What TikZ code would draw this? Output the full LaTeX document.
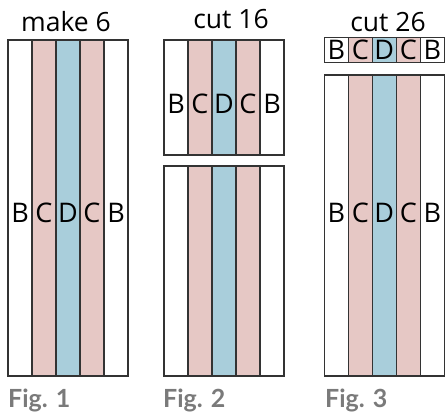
\documentclass[tikz,border=0pt]{standalone}
\usepackage{fontspec}
\setmainfont{Open Sans}
\newfontfamily\figfont{Lato}
\definecolor{pinkc}{HTML}{E6C8C5}
\definecolor{bluec}{HTML}{A9CEDB}
\definecolor{edgec}{HTML}{333333}
\definecolor{figgray}{HTML}{7A7A7A}
\tikzset{
  stripe/.style={draw=edgec, line width=1.2pt},
  lab/.style={font=\fontsize{27}{27}\selectfont, inner sep=0pt, anchor=base},
  ttl/.style={font=\fontsize{26.5}{26.5}\selectfont, inner sep=0pt, anchor=base},
  figlab/.style={font=\figfont\bfseries\fontsize{25}{25}\selectfont, text=figgray, inner sep=0pt, anchor=base west},
}
\newcommand\drawpiece[3]{%
  \foreach \c [count=\i from 0] in {white,pinkc,bluec,pinkc,white}{
    \fill[\c] ({#1+24*\i},#2) rectangle ({#1+24*(\i+1)},#3);
  }
  \foreach \i in {1,...,4}{ \draw[stripe] ({#1+24*\i},#2) -- ({#1+24*\i},#3); }
  \draw[stripe] (#1,#2) rectangle ({#1+120},#3);
}
\newcommand\drawletters[3]{%
  \foreach \l [count=\i from 0] in {B,C,D,C,B}{
    \node[lab] (#3\i) at ({#1+12+24*\i},#2) {\l};
  }
}
\begin{document}
\begin{tikzpicture}[x=1pt,y=-1pt]
\useasboundingbox (0,0) rectangle (445,414);
% Fig 1
\drawpiece{8}{40}{376}
\drawletters{8}{223}{a}
\node[ttl] (t1) at (66,32) {make 6};
\node[figlab] (f1) at (8,408) {Fig. 1};
% Fig 2
\drawpiece{164}{40}{155}
\drawpiece{164}{166}{376}
\drawletters{164}{114}{b}
\node[ttl] (t2) at (231,28.5) {cut 16};
\node[figlab] (f2) at (163,408) {Fig. 2};
% Fig 3
\drawpiece{324.3}{37.5}{62.5}
\drawpiece{324.3}{75}{376}
\drawletters{324.3}{59.5}{c}
\drawletters{324.3}{223}{d}
\node[ttl] (t3) at (388,31.5) {cut 26};
\node[figlab] (f3) at (325,408) {Fig. 3};
\end{tikzpicture}
\end{document}
